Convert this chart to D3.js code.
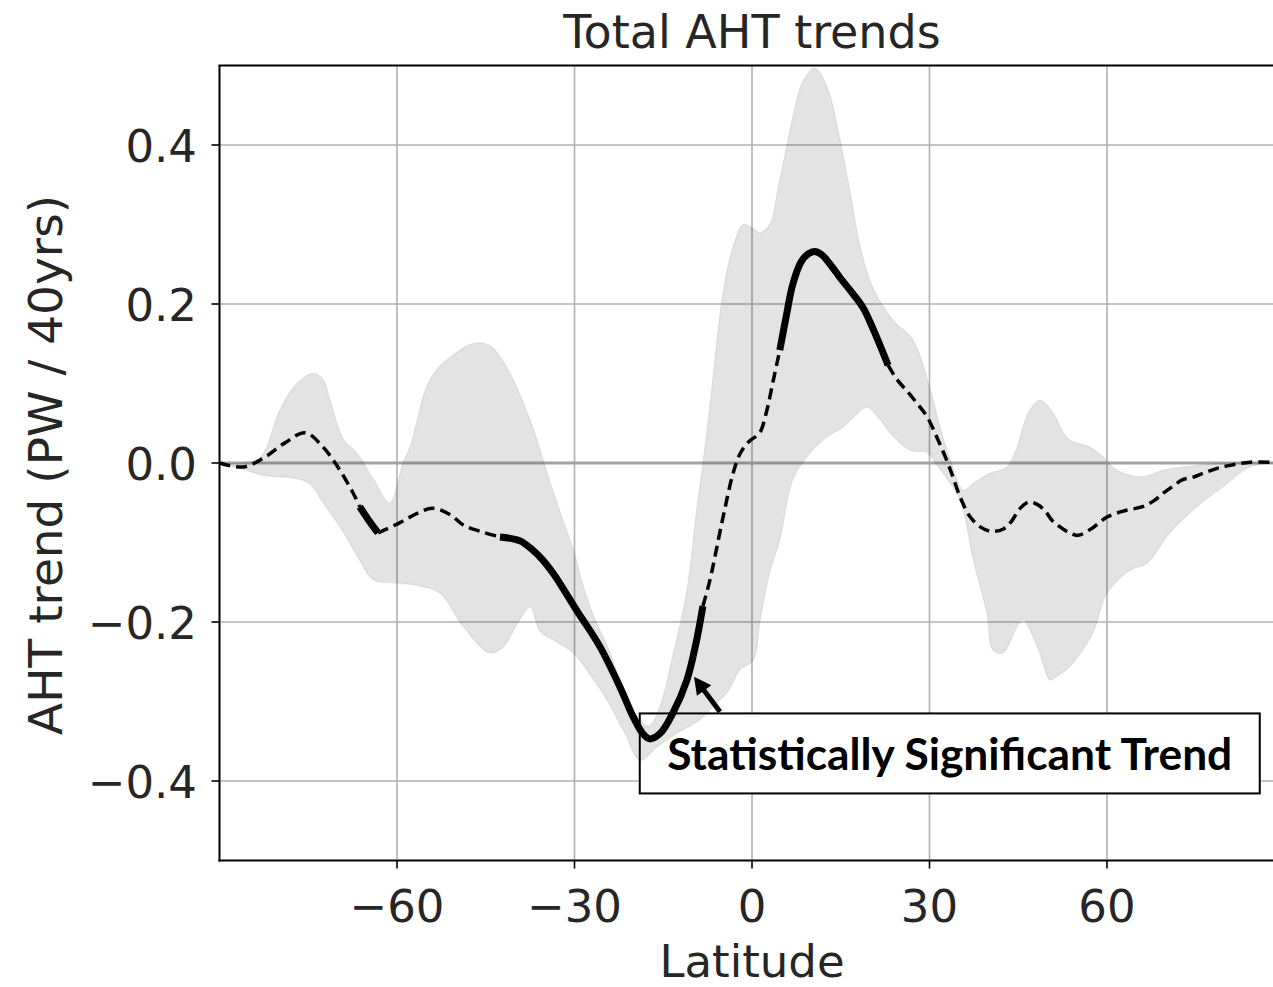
<!DOCTYPE html>
<html>
<head>
<meta charset="utf-8">
<script src="https://cdn.jsdelivr.net/npm/d3@7"></script>
<style>
  html, body { margin: 0; padding: 0; background: #fff; }
  svg { display: block; }
</style>
</head>
<body>
<svg id="chart" width="1273" height="987"></svg>
<script>
// ---------------- data ----------------
const title = "Total AHT trends";
const xLabel = "Latitude";
const yLabel = "AHT trend (PW / 40yrs)";
const xTicks = [-60, -30, 0, 30, 60];
const yTicks = [-0.4, -0.2, 0.0, 0.2, 0.4];
const annotationText = "Statistically Significant Trend";

// ensemble-mean trend
const meanLat = [-90, -86, -82.6, -79, -75.5, -72.5, -70, -67.4, -66.3, -64.5, -63.2, -59.5, -56.5, -54, -51, -48.8, -45.5, -42.6,
  -39.2, -37, -35.5, -33.5, -31.5, -29.5, -28.6, -25.7, -22.3, -20.1, -18.5, -17.3, -15.5, -13.4, -11, -9.5, -8.3,
  -7.1, -5, -3.2, -2, -0.5, 1.3, 2.3, 3.6, 4.7, 5.8, 6.9, 8.3, 9.5, 10.6, 11.8, 13.2, 15, 16.6, 18.8, 20.5, 23,
  24.5, 26.5, 28, 29.6, 31.5, 33.3, 35.3, 36.8, 38.5, 40.5, 42.5, 43.8, 45.2, 46.8, 48.2, 49.5, 50.7, 52, 53.7, 55.1, 57.5,
  60, 63, 66, 68, 69.5, 71, 72.8, 74.5, 76.2, 78.5, 80.8, 84.2, 90];
const meanVal = [0, -0.005, 0.006, 0.025, 0.038, 0.02, -0.005, -0.038, -0.055, -0.075, -0.088, -0.075, -0.063, -0.057, -0.065, -0.078, -0.087, -0.093,
  -0.098, -0.11, -0.121, -0.14, -0.163, -0.187, -0.197, -0.231, -0.282, -0.319, -0.34, -0.347, -0.34, -0.315, -0.273, -0.228, -0.18,
  -0.147, -0.072, -0.013, 0.012, 0.027, 0.038, 0.06, 0.104, 0.142, 0.185, 0.225, 0.253, 0.263, 0.266, 0.262, 0.25, 0.232, 0.217, 0.195, 0.168, 0.123,
  0.105, 0.088, 0.074, 0.058, 0.028, -0.004, -0.045, -0.067, -0.08, -0.086, -0.083, -0.074, -0.058, -0.049, -0.052, -0.06, -0.072, -0.08, -0.088, -0.091, -0.082,
  -0.068, -0.06, -0.055, -0.047, -0.038, -0.03, -0.021, -0.018, -0.013, -0.007, -0.003, 0.001, 0];

// latitude ranges where the trend is statistically significant
const sigRanges = [[-66.3, -63.2], [-42.6, -8.3], [4.7, 23]];

// spread envelope: upper edge
const upperLat = [-90, -86, -83, -79.8, -76.9, -74.2, -72.5, -71.3, -69, -66.8, -64, -61.2, -59, -57.8, -55, -53, -51, -48, -46.5, -45, -43.8,
  -40.9, -37.5, -35.3, -34.6, -32.5, -30.2, -28.5, -26.9, -24, -21.8, -19.5, -18, -17.2, -15.5, -13.3, -11, -9.3, -8.3, -7, -4.9,
  -3.2, -1.5, 0, 1.35, 3, 4.5, 5.9, 7.2, 8.6, 10.6, 12.7, 14.9, 16.6, 18.3, 20.4, 23.8, 27.2, 30, 31.8, 33.5, 35.7, 37.5,
  40.2, 43.1, 44.8, 46, 47, 48.7, 50.9, 52.5, 53.7, 57.1, 59.3, 61.7, 66, 69.5, 75.2, 80, 90];
const upperVal = [0, 0, 0.008, 0.067, 0.1, 0.113, 0.105, 0.079, 0.029, 0.013, -0.02, -0.05, 0, 0.02, 0.096, 0.12, 0.133, 0.148, 0.151, 0.15, 0.145,
  0.113, 0.054, 0.004, -0.013, -0.06, -0.109, -0.155, -0.19, -0.238, -0.285, -0.318, -0.33, -0.33, -0.305, -0.239, -0.16, -0.055, 0, 0.08, 0.214,
  0.272, 0.3, 0.296, 0.29, 0.3, 0.35, 0.4, 0.445, 0.48, 0.497, 0.473, 0.406, 0.34, 0.272, 0.221, 0.18, 0.155, 0.096, 0.045, 0.004, -0.034, -0.025,
  -0.013, -0.005, 0.02, 0.05, 0.067, 0.079, 0.063, 0.04, 0.029, 0.02, 0.008, -0.009, -0.017, -0.009, -0.003, 0, 0];

// spread envelope: lower edge
const lowerLat = [-90, -86, -83, -75.2, -72.5, -69, -66.5, -64, -60, -56, -52.7, -48.8, -44.3, -42, -39.5, -37.5, -35.8, -33, -30.2, -27, -24.5,
  -21.5, -18.9, -16, -12.7, -8.8, -6.5, -4.2, -2, 0.2, 1.4, 3, 4.7, 6.9, 9.3, 12.7, 15.4, 17.5, 19.4, 21.6, 23.3, 26.7, 29.6, 31, 33, 35.2,
  37.4, 39.7, 40.7, 42.4, 44.8, 45.8, 48.2, 50.4, 51.2, 53.7, 57.6, 60, 63.9, 66.8, 70.6, 75.2, 79.6, 84.2, 90];
const lowerVal = [0, -0.008, -0.015, -0.024, -0.05, -0.088, -0.12, -0.147, -0.151, -0.155, -0.164, -0.206, -0.239, -0.231, -0.2, -0.181, -0.212, -0.225, -0.239, -0.27, -0.298,
  -0.34, -0.374, -0.357, -0.34, -0.323, -0.305, -0.289, -0.26, -0.248, -0.197, -0.138, -0.097, -0.021, 0.008, 0.033, 0.045, 0.06, 0.07, 0.055, 0.038, 0.016, 0.013, 0, -0.02, -0.047,
  -0.122, -0.189, -0.235, -0.239, -0.206, -0.197, -0.231, -0.273, -0.27, -0.256, -0.214, -0.164, -0.135, -0.126, -0.088, -0.055, -0.03, -0.005, 0];

// ---------------- chart ----------------
const svg = d3.select("#chart");
const x = d3.scaleLinear().domain([-90, 90]).range([219.5, 1284.5]);
const y = d3.scaleLinear().domain([-0.5, 0.5]).range([860.5, 65.5]);
const fmtMinus = s => s.replace("-", "\u2212");

svg.append("defs").append("clipPath").attr("id", "plotclip")
  .append("rect").attr("x", x(-90)).attr("y", y(0.5)).attr("width", x(90) - x(-90)).attr("height", y(-0.5) - y(0.5));

const gridLayer = svg.append("g").attr("clip-path", "url(#plotclip)");

// grid
gridLayer.append("g").selectAll("line").data(xTicks).join("line")
  .attr("x1", d => x(d)).attr("x2", d => x(d)).attr("y1", y(0.5)).attr("y2", y(-0.5))
  .attr("stroke", "#b0b0b0").attr("stroke-width", 1.6);
gridLayer.append("g").selectAll("line").data(yTicks).join("line")
  .attr("x1", x(-90)).attr("x2", x(90)).attr("y1", d => y(d)).attr("y2", d => y(d))
  .attr("stroke", "#b0b0b0").attr("stroke-width", 1.6);
// zero line
gridLayer.append("line").attr("x1", x(-90)).attr("x2", x(90)).attr("y1", y(0)).attr("y2", y(0))
  .attr("stroke", "#a4a4a4").attr("stroke-width", 3);

// annotation box fill (hides grid, sits behind the data)
const boxX = x(-18.97), boxY = y(-0.315), boxW = 620, boxH = 80;
svg.append("rect").attr("x", boxX).attr("y", boxY).attr("width", boxW).attr("height", boxH)
  .attr("fill", "#fff");

const dataLayer = svg.append("g").attr("clip-path", "url(#plotclip)");

// envelope
const upperPts = upperLat.map((d, i) => [x(d), y(upperVal[i])]);
const lowerPts = lowerLat.map((d, i) => [x(d), y(lowerVal[i])]).reverse();
const edge = d3.line().curve(d3.curveCatmullRom.alpha(0.5));
const bandPath = edge(upperPts) + "L" + edge(lowerPts).slice(1) + "Z";
dataLayer.append("path").attr("d", bandPath)
  .attr("fill", "rgba(0,0,0,0.11)").attr("stroke", "rgba(0,0,0,0.07)").attr("stroke-width", 1.2);

// mean line split into significant / non-significant runs
const isSig = lat => sigRanges.some(r => lat >= r[0] && lat <= r[1]);
const runs = [];
for (let i = 0; i < meanLat.length - 1; i++) {
  const mid = (meanLat[i] + meanLat[i + 1]) / 2;
  const sig = isSig(mid);
  const last = runs[runs.length - 1];
  if (last && last.sig === sig) {
    last.pts.push([meanLat[i + 1], meanVal[i + 1]]);
  } else {
    runs.push({ sig, pts: [[meanLat[i], meanVal[i]], [meanLat[i + 1], meanVal[i + 1]]] });
  }
}
const meanLine = d3.line().x(d => x(d[0])).y(d => y(d[1])).curve(d3.curveCatmullRom.alpha(0.5));
dataLayer.append("g").selectAll("path").data(runs.filter(r => !r.sig)).join("path")
  .attr("d", d => meanLine(d.pts)).attr("fill", "none").attr("stroke", "#000")
  .attr("stroke-width", 3.5).attr("stroke-dasharray", "11,6");
dataLayer.append("g").selectAll("path").data(runs.filter(r => r.sig)).join("path")
  .attr("d", d => meanLine(d.pts)).attr("fill", "none").attr("stroke", "#000")
  .attr("stroke-width", 7).attr("stroke-linecap", "butt").attr("stroke-linejoin", "round");

// spines
svg.append("line").attr("x1", x(-90)).attr("x2", x(-90)).attr("y1", y(0.5)).attr("y2", y(-0.5) + 1).attr("stroke", "#000").attr("stroke-width", 2);
svg.append("line").attr("x1", x(-90) - 1).attr("x2", 1273).attr("y1", y(0.5)).attr("y2", y(0.5)).attr("stroke", "#000").attr("stroke-width", 2);
svg.append("line").attr("x1", x(-90) - 1).attr("x2", 1273).attr("y1", y(-0.5)).attr("y2", y(-0.5)).attr("stroke", "#000").attr("stroke-width", 2);

// ticks
const font = "DejaVu Sans, sans-serif";
svg.append("g").selectAll("line").data(xTicks).join("line")
  .attr("x1", d => x(d)).attr("x2", d => x(d)).attr("y1", y(-0.5)).attr("y2", y(-0.5) + 8)
  .attr("stroke", "#000").attr("stroke-width", 1.6);
svg.append("g").selectAll("line").data(yTicks).join("line")
  .attr("x1", x(-90) - 8).attr("x2", x(-90)).attr("y1", d => y(d)).attr("y2", d => y(d))
  .attr("stroke", "#000").attr("stroke-width", 1.6);
svg.append("g").selectAll("text").data(xTicks).join("text")
  .attr("x", d => x(d)).attr("y", 922).attr("text-anchor", "middle")
  .attr("font-family", font).attr("font-size", 45).attr("fill", "#262626")
  .text(d => fmtMinus(String(d)));
svg.append("g").selectAll("text").data(yTicks).join("text")
  .attr("x", 197).attr("y", d => y(d) + 16.5).attr("text-anchor", "end")
  .attr("font-family", font).attr("font-size", 45).attr("fill", "#262626")
  .text(d => fmtMinus(d3.format(".1f")(d)));

// titles
svg.append("text").attr("x", 752).attr("y", 48).attr("text-anchor", "middle")
  .attr("font-family", font).attr("font-size", 46).attr("fill", "#262626").text(title);
svg.append("text").attr("x", 752).attr("y", 977).attr("text-anchor", "middle")
  .attr("font-family", font).attr("font-size", 45).attr("fill", "#262626").text(xLabel);
svg.append("text").attr("transform", "translate(62,465) rotate(-90)").attr("text-anchor", "middle")
  .attr("font-family", font).attr("font-size", 47).attr("fill", "#262626").text(yLabel);

// annotation
svg.append("rect").attr("x", boxX).attr("y", boxY).attr("width", boxW).attr("height", boxH)
  .attr("fill", "none").attr("stroke", "#000").attr("stroke-width", 2);
svg.append("text").attr("x", boxX + boxW / 2).attr("y", boxY + 57).attr("text-anchor", "middle")
  .attr("font-family", "Lato, 'Open Sans', sans-serif").attr("font-weight", 700).attr("font-size", 44)
  .attr("textLength", 565).attr("lengthAdjust", "spacingAndGlyphs").attr("fill", "#000")
  .text(annotationText);

// arrow pointing at the significant segment
const tip = [x(-9.8), y(-0.269)];
const tail = [tip[0] + 26, tip[1] + 35];
const dx = tip[0] - tail[0], dy = tip[1] - tail[1], len = Math.hypot(dx, dy);
const ux = dx / len, uy = dy / len, px = -uy, py = ux;
const headLen = 17, headHalf = 9;
const base = [tip[0] - ux * headLen, tip[1] - uy * headLen];
svg.append("line").attr("x1", tail[0]).attr("y1", tail[1]).attr("x2", base[0] + ux * 2).attr("y2", base[1] + uy * 2)
  .attr("stroke", "#000").attr("stroke-width", 5);
svg.append("path")
  .attr("d", `M${tip[0]},${tip[1]}L${base[0] + px * headHalf},${base[1] + py * headHalf}L${base[0] - px * headHalf},${base[1] - py * headHalf}Z`)
  .attr("fill", "#000");
</script>
</body>
</html>
